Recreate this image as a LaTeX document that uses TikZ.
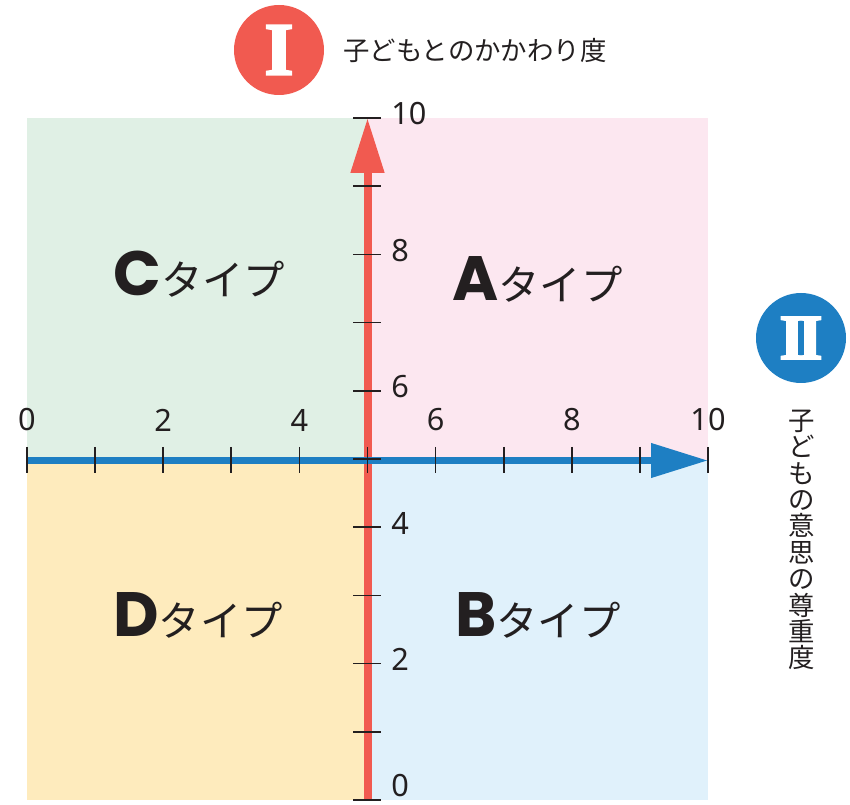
\documentclass[tikz,border=0pt]{standalone}
\usepackage{fontspec}
\setmainfont{Noto Sans}
\newfontfamily\jp{Noto Sans CJK JP}
\newfontfamily\heavy{Poppins}
\newfontfamily\romanfont{Liberation Serif}[BoldFeatures={FakeBold=3}]
\usetikzlibrary{arrows.meta}
\definecolor{axred}{HTML}{F15A50}
\definecolor{axblue}{HTML}{1E7FC3}
\definecolor{qgreen}{HTML}{E0F0E5}
\definecolor{qpink}{HTML}{FCE7F0}
\definecolor{qyellow}{HTML}{FEEBBD}
\definecolor{qblue}{HTML}{E0F1FB}
\definecolor{ink}{HTML}{231F20}
\tikzset{
  quad/.style={draw=none},
  tickmark/.style={draw=ink, line width=1.3pt},
  numlab/.style={text=ink, inner sep=0pt, font=\fontsize{23}{23}\selectfont},
  typelab/.style={text=ink, inner sep=0pt, anchor=base west},
  jptext/.style={text=ink, inner sep=0pt, font=\jp\fontsize{19.8}{19.8}\selectfont},
  badge/.style={circle, minimum size=67.5pt, inner sep=0pt, text=white},
}
\newcommand{\typelabel}[1]{{\heavy\bfseries\fontsize{47}{47}\selectfont #1}{\jp\fontsize{31}{31}\selectfont タイプ}}
\begin{document}
\begin{tikzpicture}[x=0.75pt,y=-0.75pt]
\useasboundingbox (0,0) rectangle (850,805);
% quadrants
\fill[qgreen] (27,118) rectangle (367.5,461);
\fill[qpink] (367.5,118) rectangle (708,461);
\fill[qyellow] (27,461) rectangle (367.5,800);
\fill[qblue] (367.5,461) rectangle (708,800);
% axis end points
\coordinate (ybot) at (367.5,800);
\coordinate (ytop) at (367.5,118);
\coordinate (xleft) at (27,460.5);
\coordinate (xright) at (708,460.5);
\draw[axred, line width=6pt, -{Triangle[length=41.25pt,width=24pt]}] (ybot) -- (ytop);
\draw[axblue, line width=5.5pt, -{Triangle[length=42.75pt,width=24.75pt]}] (xleft) -- (xright);
% ticks
\foreach \i in {0,...,10}{
  \draw[tickmark] ({27+68.1*\i},447) -- ({27+68.1*\i},473);
  \draw[tickmark] (353,{800-68.2*\i}) -- (381,{800-68.2*\i});
}
% tick labels
\foreach \v in {0,2,4,6,8,10}{
  \node[numlab] (hx\v) at ({27+68.1*\v},420) {\v};
}
\foreach \v in {2,4,6,8,10}{
  \node[numlab, anchor=west] (vy\v) at (391,{800-68.2*\v-4}) {\v};
}
\node[numlab, anchor=west] (vy0) at (391,786) {0};
% type labels
\node[typelab] (C) at (113,296) {\typelabel{C}};
\node[typelab] (A) at (452,301) {\typelabel{A}};
\node[typelab] (D) at (113,636) {\typelabel{D}};
\node[typelab] (B) at (455,636) {\typelabel{B}};
% badges
\node[badge, fill=axred] (I) at (279,50) {\romanfont\bfseries\fontsize{56}{56}\selectfont I};
\node[badge, fill=axblue] (II) at (801,338) {\romanfont\bfseries\fontsize{48}{48}\selectfont I\kern-5pt I};
% titles
\node[jptext, anchor=west] (t1) at (343,51) {子どもとのかかわり度};
\node[jptext, align=center, font=\jp\fontsize{19.8}{19.8}\selectfont] (t2) at (802,540) {子\\ど\\も\\の\\意\\思\\の\\尊\\重\\度};
\end{tikzpicture}
\end{document}
